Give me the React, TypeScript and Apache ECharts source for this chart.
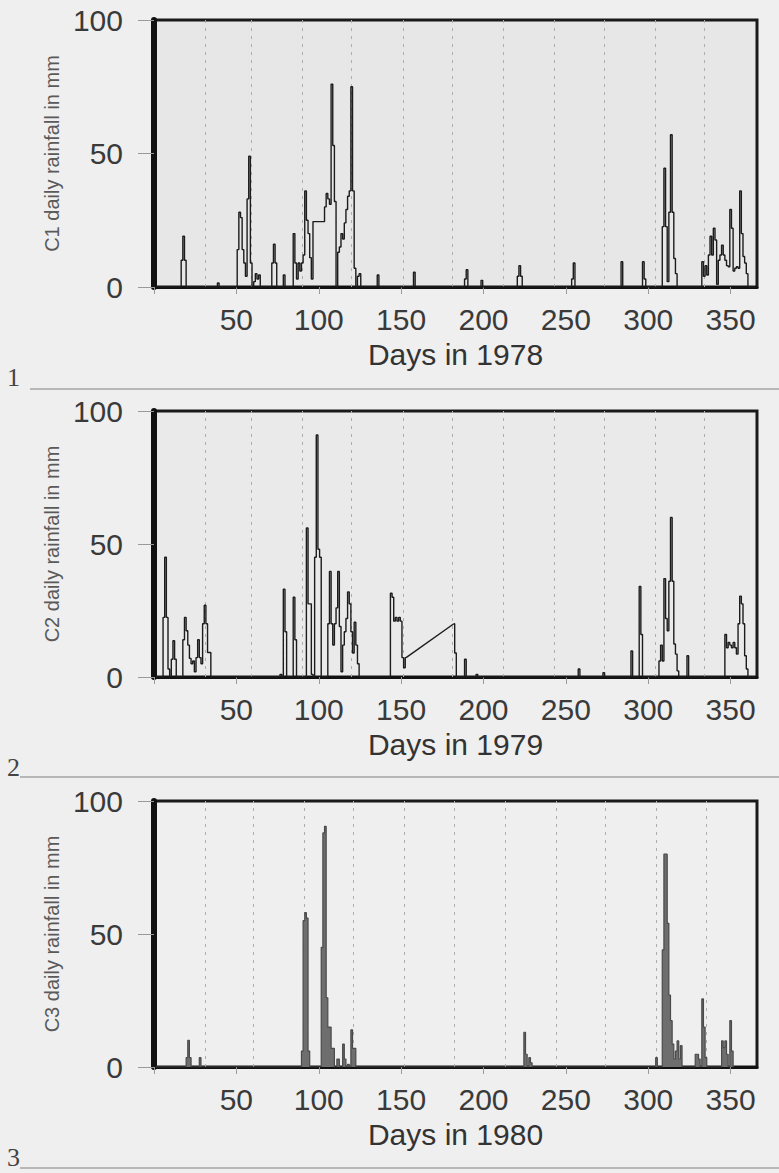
import React, { useEffect, useRef } from 'react';
import * as echarts from 'echarts';

const YEARS = ['1978', '1979', '1980'];
const STATIONS = ['C1', 'C2', 'C3'];
const PANEL_NUMBERS = ['1', '2', '3'];

// month boundaries (day of year) drawn as dashed guides
const MONTH_BOUNDS_1978 = [31, 59, 90, 120, 151, 181, 212, 243, 273, 304, 334];
const MONTH_BOUNDS_1979 = [31, 59, 90, 120, 151, 181, 212, 243, 273, 304, 334];
const MONTH_BOUNDS_1980 = [31, 60, 91, 121, 152, 182, 213, 244, 274, 305, 335];

// [day of year, daily rainfall mm]
const RAIN_1978: [number, number][] = [
  [1, 0], [16, 0], [17, 10], [18, 19], [19, 10], [20, 0],
  [38, 0], [39, 1.5], [40, 0],
  [50, 0], [51, 14], [52, 28], [53, 26], [54, 14], [55, 9], [56, 4], [57, 33], [58, 49], [59, 9], [60, 0], [61, 2], [62, 5], [63, 3], [64, 4.5], [65, 0],
  [71, 0], [72, 9], [73, 16], [74, 9], [75, 0],
  [78, 0], [79, 4.5], [80, 0],
  [84, 0], [85, 20], [86, 9], [87, 3], [88, 9], [89, 6], [90, 9], [91, 12], [92, 36], [93, 25], [94, 20], [95, 11], [96, 3], [97, 24.5],
  [103, 24.5], [104, 30], [105, 35], [106, 33], [107, 31], [108, 76], [109, 53], [110, 32], [111, 0], [112, 13], [113, 15], [114, 20], [115, 18],
  [116, 24], [117, 29], [118, 34], [119, 36], [120, 75], [121, 36], [122, 7], [123, 0], [124, 4], [125, 5], [126, 0],
  [135, 0], [136, 4.5], [137, 0],
  [157, 0], [158, 5.5], [159, 0],
  [188, 0], [189, 3], [190, 6.5], [191, 0],
  [198, 0], [199, 2.5], [200, 0],
  [220, 0], [221, 4], [222, 8], [223, 4], [224, 0],
  [253, 0], [254, 3], [255, 9], [256, 0],
  [283, 0], [284, 9.5], [285, 0],
  [296, 0], [297, 9.5], [298, 3], [299, 0],
  [308, 0], [309, 22.6], [310, 44.5], [311, 22.6], [312, 2], [313, 28], [314, 57], [315, 28], [316, 10.7], [317, 5], [318, 0],
  [332, 0], [333, 9.5], [334, 4], [335, 8], [336, 4.5], [337, 12], [338, 19], [339, 12], [340, 22], [341, 17.6], [342, 1], [343, 10],
  [344, 12], [345, 15.7], [346, 12], [347, 10], [348, 8], [349, 7.6], [350, 29], [351, 22], [352, 6], [353, 7], [354, 7.6], [355, 7],
  [356, 36], [357, 20], [358, 11.4], [359, 9], [360, 5], [361, 0], [365, 0]
];

const RAIN_1979: [number, number][] = [
  [1, 0], [5, 0], [6, 22.4], [7, 45], [8, 22.4], [9, 3], [10, 0], [11, 6.7], [12, 13.6], [13, 6.7], [14, 0],
  [17, 0], [18, 14], [19, 22.4], [20, 17.4], [21, 12], [22, 7], [23, 5], [24, 6], [25, 2], [26, 7.3], [27, 14], [28, 7.3], [29, 5],
  [30, 20], [31, 27], [32, 20], [33, 9.2], [34, 9.2], [35, 0],
  [76, 0], [77, 1], [78, 0], [79, 33], [80, 17], [81, 0], [84, 0], [85, 30], [86, 14], [87, 0],
  [92, 0], [93, 56], [94, 27.5], [95, 27.5], [96, 1], [97, 0], [98, 45], [99, 91], [100, 48], [101, 45], [102, 0],
  [105, 0], [106, 20], [107, 39.7], [108, 20], [109, 12], [110, 20], [111, 26], [112, 39.7], [113, 19], [114, 2], [115, 12],
  [116, 17], [117, 22], [118, 32], [119, 27.5], [120, 17], [121, 9], [122, 20.6], [123, 12], [124, 5], [125, 0],
  [143, 0], [144, 31.5], [145, 30], [146, 21], [147, 22.4], [148, 21], [149, 22.4], [150, 21], [151, 7.3], [152, 3.5], [153, 7.3],
  [182, 20], [183, 9], [184, 0],
  [188, 0], [189, 6.7], [190, 0], [195, 0], [196, 1], [197, 0],
  [257, 0], [258, 3], [259, 0], [272, 0], [273, 1.6], [274, 0],
  [289, 0], [290, 9.8], [291, 0], [294, 0], [295, 34], [296, 16], [297, 0],
  [306, 0], [307, 6], [308, 12], [309, 6], [310, 37], [311, 22], [312, 17.4], [313, 36], [314, 60], [315, 36], [316, 12.4], [317, 8.6], [318, 2.3], [319, 0],
  [323, 0], [324, 8], [325, 0],
  [346, 0], [347, 16], [348, 11], [349, 13], [350, 12], [351, 11], [352, 13], [353, 11], [354, 8.6], [355, 20], [356, 30.4],
  [357, 27.5], [358, 20], [359, 8], [360, 3], [361, 0], [365, 0]
];

const RAIN_1980: [number, number][] = [
  [1, 0], [19, 0], [20, 3.5], [21, 10], [22, 3.5], [23, 0], [27, 0], [28, 3.5], [29, 0],
  [89, 0], [90, 6], [91, 55], [92, 58], [93, 56], [94, 6], [95, 0],
  [101, 0], [102, 45], [103, 88], [104, 90.5], [105, 26], [106, 15], [107, 15], [108, 7], [109, 7], [110, 0],
  [112, 3], [113, 0], [114, 0], [115, 8.6], [116, 3], [117, 0], [118, 1], [119, 0], [120, 14], [121, 7], [122, 7], [123, 0],
  [224, 0], [225, 13], [226, 4.8], [227, 0], [228, 3.5], [229, 1.6], [230, 0],
  [304, 0], [305, 3.5], [306, 0], [308, 0], [309, 44], [310, 80], [311, 80], [312, 54], [313, 27], [314, 17.4], [315, 8.6],
  [316, 3], [317, 6], [318, 9.8], [319, 3], [320, 8], [321, 0],
  [328, 0], [329, 4.8], [330, 4.8], [331, 3], [332, 0], [333, 25.6], [334, 15], [335, 3.5], [336, 0],
  [344, 0], [345, 9.8], [346, 7.3], [347, 9.8], [348, 4.8], [349, 0], [350, 17.4], [351, 6], [352, 0]
];

// missing-data stretches that the original plot bridges with a straight line [from day, to day]
const GAPS_1978: [number, number][] = [];
const GAPS_1979: [number, number][] = [[153, 182]];
const GAPS_1980: [number, number][] = [];

const RAIN = [RAIN_1978, RAIN_1979, RAIN_1980];
const GAPS = [GAPS_1978, GAPS_1979, GAPS_1980];
const MONTH_BOUNDS = [MONTH_BOUNDS_1978, MONTH_BOUNDS_1979, MONTH_BOUNDS_1980];

const SANS = "'Liberation Sans', Arial, Helvetica, sans-serif";
const SERIF = "'Liberation Serif', 'Times New Roman', serif";

export default function App() {
  const ref = useRef<HTMLDivElement>(null);

  useEffect(() => {
    if (!ref.current) return;
    const chart = echarts.init(ref.current, null, { renderer: 'svg' });

    const tops = [20, 411, 801];
    const heights = [267, 266, 266];
    const plotBg = ['#e7e7e7', '#eaeaea', '#efefef'];

    const grids = tops.map((t, i) => ({
      left: 154,
      top: t,
      width: 603,
      height: heights[i],
      show: true,
      backgroundColor: plotBg[i],
      borderColor: '#1a1a1a',
      borderWidth: 3
    }));

    const xAxes = YEARS.map((y, i) => ({
      gridIndex: i,
      type: 'value',
      min: 0,
      max: 366,
      interval: 50,
      axisLine: { show: true, onZero: false, lineStyle: { color: '#111', width: 3 } },
      axisTick: { show: true, length: 7, lineStyle: { color: '#9a9a9a', width: 1 } },
      axisLabel: {
        margin: 17,
        fontSize: 30,
        color: '#3a3a3a',
        fontFamily: SANS,
        showMaxLabel: false,
        formatter: (v: number) => (v > 0 && v % 50 === 0 ? String(v) : '')
      },
      splitLine: { show: false },
      name: 'Days in ' + y,
      nameLocation: 'middle',
      nameGap: 52,
      nameTextStyle: { fontSize: 30, color: '#333', fontFamily: SANS }
    }));

    const yAxes = STATIONS.map((s, i) => ({
      gridIndex: i,
      type: 'value',
      min: 0,
      max: 100,
      interval: 50,
      axisLine: { show: true, lineStyle: { color: '#111', width: 6 } },
      axisTick: { show: true, length: 16, lineStyle: { color: '#9a9a9a', width: 1 } },
      axisLabel: { margin: 31, fontSize: 30, color: '#3a3a3a', fontFamily: SANS },
      splitLine: { show: false },
      name: s + ' daily rainfall in mm',
      nameLocation: 'middle',
      nameGap: 90,
      nameTextStyle: { fontSize: 20, color: '#5a5a5a', fontFamily: SANS }
    }));

    const series: any[] = [];
    RAIN.forEach((data, i) => {
      // month guides, behind the data
      series.push({
        type: 'line',
        xAxisIndex: i,
        yAxisIndex: i,
        data: [],
        silent: true,
        z: 1,
        markLine: {
          silent: true,
          z: 1,
          symbol: ['none', 'none'],
          label: { show: false },
          lineStyle: { color: '#adadad', type: [3, 5], width: 1 },
          data: MONTH_BOUNDS[i].map((d) => ({ xAxis: d }))
        }
      });

      // break the stepped trace at gaps; bridge them with a straight segment
      const stepped: any[] = [];
      data.forEach((p, k) => {
        stepped.push(p);
        const next = data[k + 1];
        if (next && GAPS[i].some(([a, b]) => a === p[0] && b === next[0])) {
          stepped.push([p[0] + 0.01, '-']);
          stepped.push([next[0] - 0.01, '-']);
        }
      });

      const color = i === 2 ? '#4a4a4a' : '#1c1c1c';
      series.push({
        type: 'line',
        xAxisIndex: i,
        yAxisIndex: i,
        data: stepped,
        step: 'middle',
        connectNulls: false,
        symbol: 'none',
        lineStyle: { color, width: i === 2 ? 1.2 : 1.4 },
        areaStyle: i === 2 ? { color: '#6e6e6e', opacity: 1 } : undefined,
        z: 3
      });

      GAPS[i].forEach(([a, b]) => {
        const pa = data.find((p) => p[0] === a);
        const pb = data.find((p) => p[0] === b);
        if (!pa || !pb) return;
        series.push({
          type: 'line',
          xAxisIndex: i,
          yAxisIndex: i,
          data: [pa, pb],
          symbol: 'none',
          lineStyle: { color, width: 1.4 },
          z: 3
        });
      });
    });

    const numberY = [378, 768, 1158];
    const sepLines = [
      { y: 389, x1: 30 },
      { y: 777, x1: 20 },
      { y: 1168, x1: 20 }
    ];

    const graphic = [
      ...PANEL_NUMBERS.map((n, i) => ({
        type: 'text',
        left: 7,
        top: numberY[i] - 14,
        style: { text: n, fontSize: 26, fontFamily: SERIF, fill: '#444' }
      })),
      ...sepLines.map((l) => ({
        type: 'line',
        shape: { x1: l.x1, y1: l.y, x2: 779, y2: l.y },
        style: { stroke: '#a5a5a5', lineWidth: 1.5 }
      }))
    ];

    chart.setOption({
      animation: false,
      backgroundColor: '#efefef',
      grid: grids,
      xAxis: xAxes,
      yAxis: yAxes,
      series,
      graphic
    });

    return () => chart.dispose();
  }, []);

  return (
    <div
      ref={ref}
      style={{ position: 'fixed', left: 0, top: 0, width: 779, height: 1173, background: '#efefef' }}
    />
  );
}
